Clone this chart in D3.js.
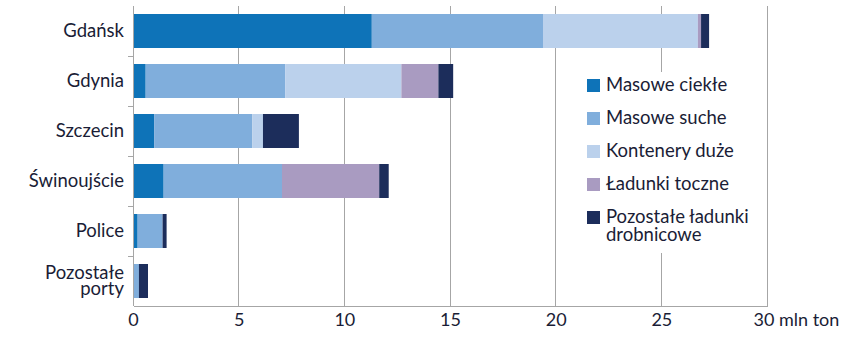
<!DOCTYPE html>
<html>
<head>
<meta charset="utf-8">
<script src="https://cdn.jsdelivr.net/npm/d3@7"></script>
<style>
  body { margin: 0; background: #fff; }
  svg { display: block; font-family: Lato, "Open Sans", sans-serif; }
</style>
</head>
<body>
<div id="chart"></div>
<script>
// ports (top to bottom)
const ports = ['Gdańsk', 'Gdynia', 'Szczecin', 'Świnoujście', 'Police', 'Pozostałe porty'];
const seriesNames = ['Masowe ciekłe', 'Masowe suche', 'Kontenery duże', 'Ładunki toczne', 'Pozostałe ładunki drobnicowe'];
const seriesColors = ['#0e73b8', '#80aedc', '#bbd1ec', '#a99bc1', '#1c2d5b'];

// mln ton, per series, in port order
const masoweCiekle = [11.3, 0.6, 1.0, 1.45, 0.22, 0];
const masoweSuche = [8.1, 6.6, 4.65, 5.6, 1.18, 0.28];
const kontenery = [7.33, 5.5, 0.5, 0, 0, 0];
const ladunkiToczne = [0.15, 1.75, 0, 4.6, 0, 0];
const pozostaleDrobnicowe = [0.38, 0.7, 1.7, 0.45, 0.19, 0.43];

const xTicks = [0, 5, 10, 15, 20, 25, 30];

const W = 853, H = 341;
const margin = { top: 6, right: 86, bottom: 35, left: 133 };
const innerW = W - margin.left - margin.right;
const innerH = H - margin.top - margin.bottom;
const textColor = '#1a1d36';

const svg = d3.select('#chart').append('svg')
  .attr('width', W)
  .attr('height', H);

const g = svg.append('g')
  .attr('transform', `translate(${margin.left},${margin.top})`);

const x = d3.scaleLinear().domain([0, 30]).range([0, innerW]);
const y = d3.scaleBand().domain(ports).range([0, innerH]).paddingInner(0.32).paddingOuter(0.16);

// stack data
const rows = ports.map((p, i) => ({
  port: p,
  s0: masoweCiekle[i],
  s1: masoweSuche[i],
  s2: kontenery[i],
  s3: ladunkiToczne[i],
  s4: pozostaleDrobnicowe[i]
}));
const stacked = d3.stack().keys(['s0', 's1', 's2', 's3', 's4'])(rows);

// gridlines
g.append('g')
  .selectAll('line')
  .data(xTicks.filter(d => d > 0))
  .join('line')
  .attr('x1', d => x(d)).attr('x2', d => x(d))
  .attr('y1', 0).attr('y2', innerH)
  .attr('stroke', '#a6a6a6')
  .attr('stroke-width', 1)
  .attr('shape-rendering', 'crispEdges');

// bars
g.append('g')
  .selectAll('g')
  .data(stacked)
  .join('g')
  .attr('fill', (d, i) => seriesColors[i])
  .selectAll('rect')
  .data(d => d)
  .join('rect')
  .attr('x', d => x(d[0]))
  .attr('y', d => y(d.data.port))
  .attr('width', d => Math.max(0, x(d[1]) - x(d[0])))
  .attr('height', y.bandwidth());

// left axis with ticks between categories
const step = y.step();
const leftAxis = g.append('g');
leftAxis.append('line')
  .attr('x1', 0).attr('x2', 0).attr('y1', 0).attr('y2', innerH)
  .attr('stroke', '#a6a6a6').attr('shape-rendering', 'crispEdges');
leftAxis.selectAll('line.tk')
  .data(d3.range(1, ports.length))
  .join('line')
  .attr('class', 'tk')
  .attr('x1', -5).attr('x2', 0)
  .attr('y1', i => Math.round(i * step) + 0.5)
  .attr('y2', i => Math.round(i * step) + 0.5)
  .attr('stroke', '#a6a6a6');

// category labels (two-line for the last one)
ports.forEach(p => {
  const parts = p === 'Pozostałe porty' ? ['Pozostałe', 'porty'] : [p];
  const cy = y(p) + y.bandwidth() / 2;
  parts.forEach((t, k) => {
    leftAxis.append('text')
      .attr('x', -9)
      .attr('y', cy + (k - (parts.length - 1) / 2) * 16.5)
      .attr('dy', '0.33em')
      .attr('text-anchor', 'end')
      .attr('fill', textColor)
      .attr('font-size', 18.5)
      .text(t);
  });
});

// bottom axis
const xAxis = g.append('g')
  .attr('transform', `translate(0,${innerH})`)
  .call(d3.axisBottom(x).tickValues(xTicks).tickSize(0).tickPadding(7)
    .tickFormat(d => d === 30 ? '30 mln ton' : d));
xAxis.select('.domain').attr('stroke', '#a6a6a6').attr('shape-rendering', 'crispEdges');
xAxis.selectAll('text')
  .attr('font-size', 18)
  .attr('font-family', 'Lato, "Open Sans", sans-serif')
  .attr('fill', textColor)
  .filter(d => d === 30)
  .attr('text-anchor', 'start')
  .attr('dx', -14);

// legend
const legend = svg.append('g').attr('transform', 'translate(575,72)');
legend.append('rect')
  .attr('width', 185).attr('height', 181)
  .attr('fill', '#fff');
const items = legend.selectAll('g')
  .data(seriesNames)
  .join('g')
  .attr('transform', (d, i) => `translate(12,${13 + i * 33})`);
items.append('rect')
  .attr('x', 0).attr('y', -6)
  .attr('width', 13).attr('height', 13)
  .attr('fill', (d, i) => seriesColors[i]);
items.each(function (d) {
  const parts = d === 'Pozostałe ładunki drobnicowe' ? ['Pozostałe ładunki', 'drobnicowe'] : [d];
  parts.forEach((t, k) => {
    d3.select(this).append('text')
      .attr('x', 19)
      .attr('y', k * 18)
      .attr('dy', '0.35em')
      .attr('fill', textColor)
      .attr('font-size', 18.5)
      .text(t);
  });
});
</script>
</body>
</html>
